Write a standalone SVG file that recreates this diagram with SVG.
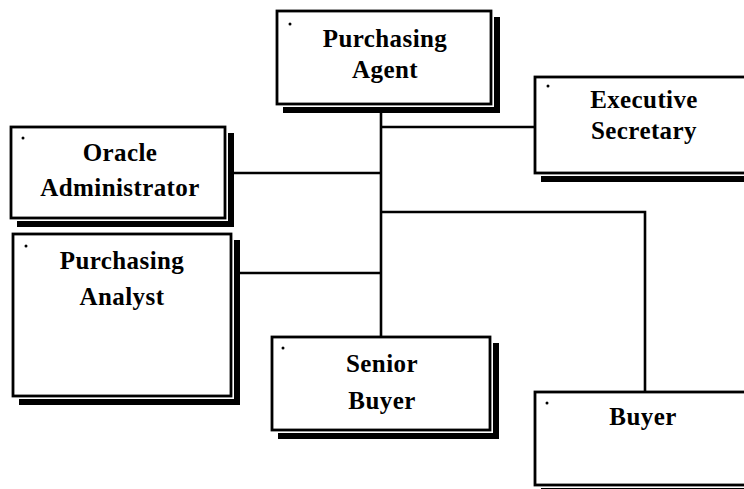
<svg xmlns="http://www.w3.org/2000/svg" width="744" height="489" viewBox="0 0 744 489">
  <style>
    .shadow { fill: #000; }
    .gap { fill: #fff; }
    .box { fill: #fff; stroke: #000; stroke-width: 2.8; }
    .dot { fill: #000; }
    .label { font-family: "Liberation Serif", "Times New Roman", serif; font-weight: bold; font-size: 25px; letter-spacing: 0.4px; fill: #000; text-anchor: middle; }
    .wire { fill: none; stroke: #000; stroke-width: 2.6; }
  </style>
  <rect width="744" height="489" fill="#fff"/>

  <!-- connectors -->
  <g id="connectors">
    <path class="wire" d="M381 113 V337"/>
    <path class="wire" d="M234 173 H381"/>
    <path class="wire" d="M240 273 H381"/>
    <path class="wire" d="M381 127 H535"/>
    <path class="wire" d="M381 212 H645 V392"/>
  </g>

  <!-- Purchasing Agent -->
  <g id="purchasing-agent">
    <rect class="shadow" x="283" y="17" width="217" height="96"/>
    <rect class="gap" x="277" y="11" width="217" height="96"/>
    <rect class="box" x="277" y="11" width="214" height="93"/>
    <circle class="dot" cx="290" cy="24" r="1.5"/>
    <text class="label" x="385" y="47">Purchasing</text>
    <text class="label" x="385" y="78">Agent</text>
  </g>

  <!-- Oracle Administrator -->
  <g id="oracle-administrator">
    <rect class="shadow" x="17" y="133" width="217" height="94"/>
    <rect class="gap" x="11" y="127" width="217" height="94"/>
    <rect class="box" x="11" y="127" width="214" height="91"/>
    <circle class="dot" cx="23" cy="138" r="1.5"/>
    <text class="label" x="120" y="161">Oracle</text>
    <text class="label" x="120" y="196">Administrator</text>
  </g>

  <!-- Purchasing Analyst -->
  <g id="purchasing-analyst">
    <rect class="shadow" x="19" y="240" width="221" height="165"/>
    <rect class="gap" x="13" y="234" width="221" height="165"/>
    <rect class="box" x="13" y="234" width="218" height="162"/>
    <circle class="dot" cx="26" cy="246" r="1.5"/>
    <text class="label" x="122" y="269">Purchasing</text>
    <text class="label" x="122" y="305">Analyst</text>
  </g>

  <!-- Executive Secretary -->
  <g id="executive-secretary">
    <rect class="shadow" x="541" y="83" width="228" height="99"/>
    <rect class="gap" x="535" y="77" width="228" height="99"/>
    <rect class="box" x="535" y="77" width="225" height="96"/>
    <circle class="dot" cx="548" cy="86" r="1.5"/>
    <text class="label" x="644" y="108">Executive</text>
    <text class="label" x="644" y="139">Secretary</text>
  </g>

  <!-- Senior Buyer -->
  <g id="senior-buyer">
    <rect class="shadow" x="278" y="343" width="221" height="96"/>
    <rect class="gap" x="272" y="337" width="221" height="96"/>
    <rect class="box" x="272" y="337" width="218" height="93"/>
    <circle class="dot" cx="283" cy="348" r="1.5"/>
    <text class="label" x="382" y="372">Senior</text>
    <text class="label" x="382" y="409">Buyer</text>
  </g>

  <!-- Buyer -->
  <g id="buyer">
    <rect class="shadow" x="541" y="398" width="228" height="96"/>
    <rect class="gap" x="535" y="392" width="228" height="96"/>
    <rect class="box" x="535" y="392" width="225" height="93"/>
    <circle class="dot" cx="547" cy="403" r="1.5"/>
    <text class="label" x="643" y="425">Buyer</text>
  </g>
</svg>
